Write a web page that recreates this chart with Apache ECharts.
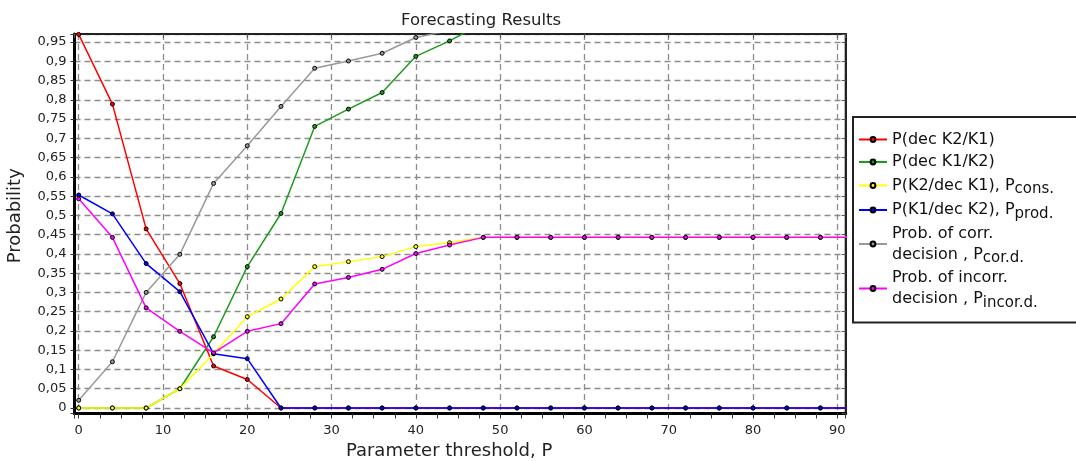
<!DOCTYPE html>
<html>
<head>
<meta charset="utf-8">
<script src="https://cdn.jsdelivr.net/npm/echarts@6/dist/echarts.min.js"></script>
<style>
  html, body { margin: 0; padding: 0; background: #fff; }
  #chart { width: 1076px; height: 461px; }
</style>
</head>
<body>
<div id="chart"></div>
<script>
// threshold values P (one point every 4, last one falls outside the axis)
const thresholds = [0, 4, 8, 12, 16, 20, 24, 28, 32, 36, 40, 44, 48, 52, 56, 60, 64, 68, 72, 76, 80, 84, 88, 92];

const decK2K1 = [0.97, 0.789, 0.465, 0.323, 0.109, 0.074, 0, 0, 0, 0, 0, 0, 0, 0, 0, 0, 0, 0, 0, 0, 0, 0, 0, 0];
const decK1K2 = [0, 0, 0, 0.05, 0.185, 0.367, 0.505, 0.731, 0.776, 0.819, 0.913, 0.953, 1, 1, 1, 1, 1, 1, 1, 1, 1, 1, 1, 1];
const pCons = [0, 0, 0, 0.05, 0.141, 0.237, 0.283, 0.367, 0.38, 0.393, 0.419, 0.429, 0.443, 0.443, 0.443, 0.443, 0.443, 0.443, 0.443, 0.443, 0.443, 0.443, 0.443, 0.443];
const pProd = [0.553, 0.504, 0.375, 0.302, 0.141, 0.128, 0, 0, 0, 0, 0, 0, 0, 0, 0, 0, 0, 0, 0, 0, 0, 0, 0, 0];
const pCorr = [0.02, 0.12, 0.3, 0.399, 0.583, 0.681, 0.783, 0.882, 0.901, 0.921, 0.962, 0.98, 1, 1, 1, 1, 1, 1, 1, 1, 1, 1, 1, 1];
const pIncorr = [0.543, 0.443, 0.26, 0.199, 0.143, 0.199, 0.219, 0.322, 0.339, 0.36, 0.401, 0.423, 0.443, 0.443, 0.443, 0.443, 0.443, 0.443, 0.443, 0.443, 0.443, 0.443, 0.443, 0.443];

const seriesNames = [
  'P(dec K2/K1)',
  'P(dec K1/K2)',
  'P(K2/dec K1), Pcons.',
  'P(K1/dec K2), Pprod.',
  'Prob. of corr. decision, Pcor.d.',
  'Prob. of incorr. decision, Pincor.d.'
];
// legend text with subscripts
const legendLabels = [
  'P(dec K2/K1)',
  'P(dec K1/K2)',
  'P(K2/dec K1), P{s|cons.}',
  'P(K1/dec K2), P{s|prod.}',
  'Prob. of corr.\ndecision , P{s|cor.d.}',
  'Prob. of incorr.\ndecision , P{s|incor.d.}'
];
const seriesValues = [decK2K1, decK1K2, pCons, pProd, pCorr, pIncorr];
const colors = ['#ff0000', '#1e9a1e', '#ffff00', '#0000ff', '#999999', '#ff00ff'];

const font = 'DejaVu Sans';
const chart = echarts.init(document.getElementById('chart'));

function commaLabel(v, step) {
  const k = Math.round(v / step);
  if (Math.abs(k * step - v) > step * 0.01) return '';
  return String(+(k * step).toFixed(2)).replace('.', ',');
}

const gridLine = { show: true, lineStyle: { color: '#8c8c8c', width: 1.3, type: [6, 4] } };

chart.setOption({
  animation: false,
  backgroundColor: '#fff',
  title: {
    text: 'Forecasting Results',
    left: 396,
    top: 7,
    textStyle: { fontFamily: font, fontSize: 16.5, fontWeight: 'normal', color: '#222' }
  },
  legend: {
    orient: 'vertical',
    left: 853,
    top: 117,
    padding: [12, 60, 12, 5],
    itemGap: 1.5,
    itemWidth: 28,
    itemHeight: 6,
    borderColor: '#222',
    borderWidth: 2,
    backgroundColor: '#fff',
    data: seriesNames,
    formatter: name => legendLabels[seriesNames.indexOf(name)],
    textStyle: {
      fontFamily: font,
      fontSize: 16,
      lineHeight: 21,
      color: '#111',
      rich: {
        s: { fontFamily: font, fontSize: 15, lineHeight: 13, padding: [8, 0, 0, 0], color: '#111' }
      }
    }
  },
  grid: {
    left: 74.5,
    right: 230.3,
    top: 34,
    bottom: 47.5,
    outerBoundsMode: 'none',
    containLabel: false,
    show: true,
    borderColor: '#222',
    borderWidth: 2,
    backgroundColor: '#fff'
  },
  xAxis: [{
    type: 'value',
    min: -0.5,
    max: 91,
    minInterval: 10,
    maxInterval: 10,
    splitNumber: 9,
    name: 'Parameter threshold, P',
    nameLocation: 'middle',
    nameGap: 27,
    nameTextStyle: { fontFamily: font, fontSize: 18, color: '#222', padding: [0, 22, 0, 0] },
    axisLine: { onZero: false, lineStyle: { color: '#000', width: 3 } },
    axisTick: { show: true, length: 5, lineStyle: { color: '#333' } },
    minorTick: { show: true, splitNumber: 4, length: 5, lineStyle: { color: '#333' } },
    axisLabel: {
      fontFamily: font, fontSize: 13, color: '#222', margin: 11,
      formatter: v => commaLabel(v, 10)
    },
    splitLine: gridLine
  }, {
    // top border with small inward ticks
    type: 'value',
    position: 'top',
    min: -0.5,
    max: 91,
    minInterval: 10,
    maxInterval: 10,
    splitNumber: 9,
    axisLine: { onZero: false, lineStyle: { color: '#222', width: 2 } },
    axisTick: { show: true, inside: true, length: 4, lineStyle: { color: '#555' } },
    axisLabel: { show: false },
    splitLine: { show: false }
  }],
  yAxis: [{
    type: 'value',
    min: -0.0143,
    max: 0.971,
    minInterval: 0.05,
    maxInterval: 0.05,
    splitNumber: 20,
    name: 'Probability',
    nameLocation: 'middle',
    nameGap: 50,
    nameTextStyle: { fontFamily: font, fontSize: 18, color: '#222', padding: [0, 0, 0, 16] },
    axisLine: { onZero: false, lineStyle: { color: '#000', width: 3 } },
    axisTick: { show: true, length: 4, lineStyle: { color: '#333' } },
    axisLabel: {
      fontFamily: font, fontSize: 13, color: '#222', margin: 8,
      formatter: v => commaLabel(v, 0.05)
    },
    splitLine: gridLine
  }, {
    // right border with small inward ticks
    type: 'value',
    position: 'right',
    min: -0.0143,
    max: 0.971,
    minInterval: 0.05,
    maxInterval: 0.05,
    splitNumber: 20,
    axisLine: { onZero: false, lineStyle: { color: '#222', width: 2 } },
    axisTick: { show: true, inside: true, length: 4, lineStyle: { color: '#555' } },
    axisLabel: { show: false },
    splitLine: { show: false }
  }],
  series: seriesNames.map((name, i) => ({
    name: name,
    type: 'line',
    xAxisIndex: 0,
    yAxisIndex: 0,
    data: thresholds.map((x, j) => [x, seriesValues[i][j]]),
    symbol: 'circle',
    symbolSize: 4,
    clip: true,
    lineStyle: { color: colors[i], width: 1.5 },
    itemStyle: { color: colors[i], borderColor: '#000', borderWidth: 1 }
  }))
});
</script>
</body>
</html>
